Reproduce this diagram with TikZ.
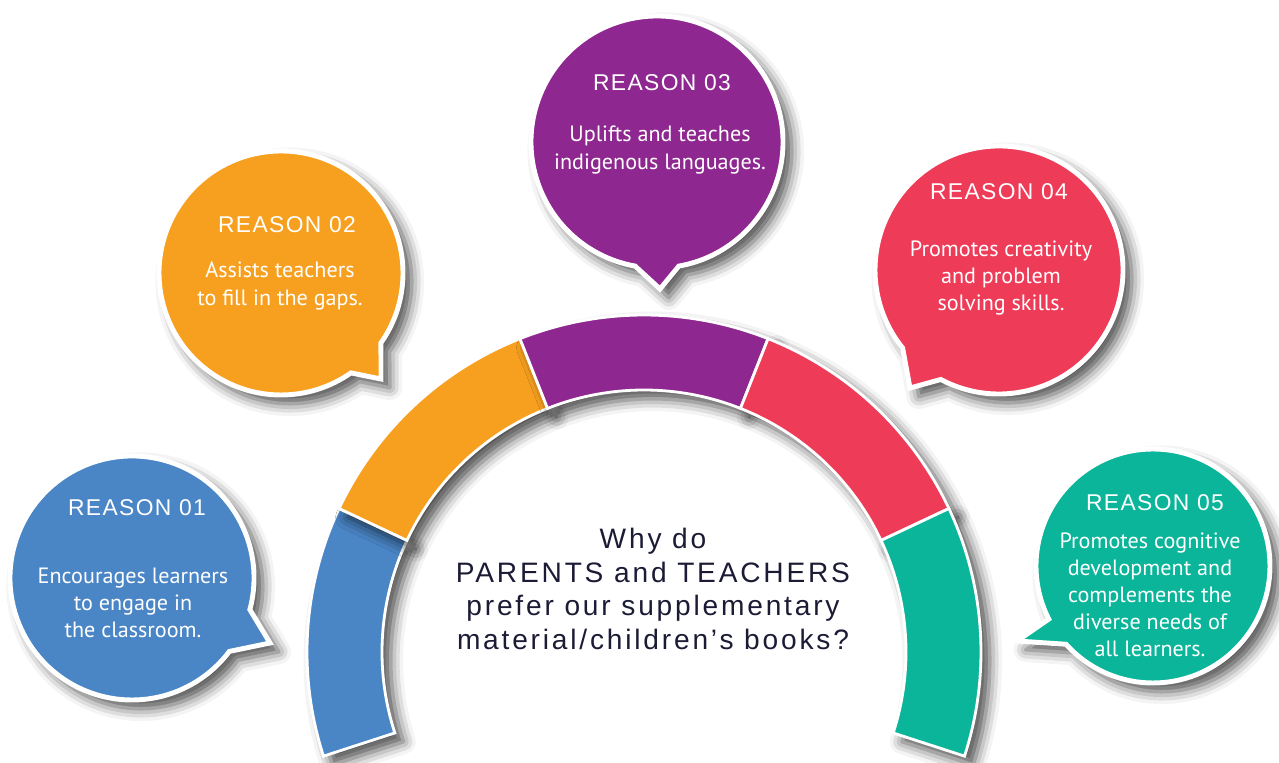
\documentclass[tikz,border=0pt]{standalone}
\usepackage{fontspec}
\setmainfont{PT Sans}
\newfontfamily\reasonfont[LetterSpace=6]{Liberation Sans}
\newfontfamily\whyfont[LetterSpace=10]{Liberation Sans}
\usepackage{tikz}
\usetikzlibrary{calc,shadows.blur}
\definecolor{cblue}{HTML}{4A85C5}
\definecolor{corange}{HTML}{F7A01F}
\definecolor{cpurple}{HTML}{8E278F}
\definecolor{cred}{HTML}{EE3B57}
\definecolor{cgreen}{HTML}{0AB59A}
\definecolor{cnavy}{HTML}{1B1B35}
\tikzset{
  softshadow/.style={blur shadow={shadow xshift=5pt,shadow yshift=-5pt,shadow blur radius=7pt,shadow opacity=70}},
  band/.style={fill=#1,draw=white,line width=1.6pt,softshadow},
  bubble/.style={fill=#1,draw=white,line width=2.8pt,line join=miter,softshadow},
  reasonlbl/.style={text=white,font=\reasonfont\fontsize{13}{15}\selectfont},
  reasontxt/.style={text=white,align=center,font=\fontsize{12.6}{15.4}\selectfont},
}
\begin{document}
\begin{tikzpicture}[x=0.02cm,y=0.02cm]
\useasboundingbox (0,0) rectangle (1279,763);
\clip (0,0) rectangle (1279,763);
\coordinate (o) at (644,111);
% the half ring
\path[band=cblue] ($(o)+(154.8:337)$) arc[start angle=154.8,end angle=198,radius=337] -- ($(o)+(198:262)$) arc[start angle=198,end angle=154.8,radius=262] -- cycle;
\path[band=corange] ($(o)+(111.6:337)$) arc[start angle=111.6,end angle=154.8,radius=337] -- ($(o)+(154.8:262)$) arc[start angle=154.8,end angle=111.6,radius=262] -- cycle;
\path[band=cpurple] ($(o)+(68.4:337)$) arc[start angle=68.4,end angle=111.6,radius=337] -- ($(o)+(111.6:262)$) arc[start angle=111.6,end angle=68.4,radius=262] -- cycle;
\path[band=cred] ($(o)+(25.2:337)$) arc[start angle=25.2,end angle=68.4,radius=337] -- ($(o)+(68.4:262)$) arc[start angle=68.4,end angle=25.2,radius=262] -- cycle;
\path[band=cgreen] ($(o)+(-18:337)$) arc[start angle=-18,end angle=25.2,radius=337] -- ($(o)+(25.2:262)$) arc[start angle=25.2,end angle=-18,radius=262] -- cycle;
% speech bubbles
\coordinate (b1) at (132,185);
\coordinate (b2) at (281,490);
\coordinate (b3) at (657,621);
\coordinate (b4) at (999,493);
\coordinate (b5) at (1153,197);
\coordinate (tip1) at (270,120);
\coordinate (tip2) at (381,384);
\coordinate (tip3) at (660,474);
\coordinate (tip4) at (910,375);
\coordinate (tip5) at (1017,122);
\path[bubble=cblue] ($(b1)+(-37:122)$) -- (tip1) -- ($(b1)+(-15:122)$) arc[start angle=-15,end angle=323,radius=122] -- cycle;
\path[bubble=corange] ($(b2)+(-55:122)$) -- (tip2) -- ($(b2)+(-35:122)$) arc[start angle=-35,end angle=305,radius=122] -- cycle;
\path[bubble=cpurple] ($(b3)+(-100:126)$) -- (tip3) -- ($(b3)+(-80:126)$) arc[start angle=-80,end angle=260,radius=126] -- cycle;
\path[bubble=cred] ($(b4)+(219:124)$) -- (tip4) -- ($(b4)+(242:124)$) arc[start angle=242,end angle=579,radius=124] -- cycle;
\path[bubble=cgreen] ($(b5)+(207:117)$) -- (tip5) -- ($(b5)+(222:117)$) arc[start angle=222,end angle=567,radius=117] -- cycle;
% texts
\node[reasonlbl] (r1) at (137,255) {REASON 01};
\node[reasontxt] (t1) at (133,160) {Encourages learners\\to engage in\\the classroom.};
\node[reasonlbl] (r2) at (287,538) {REASON 02};
\node[reasontxt] (t2) at (280,477) {Assists teachers\\to fill in the gaps.};
\node[reasonlbl] (r3) at (662,680) {REASON 03};
\node[reasontxt] (t3) at (660,613) {Uplifts and teaches\\indigenous languages.};
\node[reasonlbl] (r4) at (999,571) {REASON 04};
\node[reasontxt] (t4) at (1001,485) {Promotes creativity\\and problem\\solving skills.};
\node[reasonlbl] (r5) at (1155,260) {REASON 05};
\node[reasontxt] (t5) at (1150,168) {Promotes cognitive\\development and\\complements the\\diverse needs of\\all learners.};
\node[text=cnavy,align=center,font=\whyfont\fontsize{16}{19.3}\selectfont] (why) at (653,174) {Why do\\PARENTS and TEACHERS\\prefer our supplementary\\material/children’s books?};
\end{tikzpicture}
\end{document}
